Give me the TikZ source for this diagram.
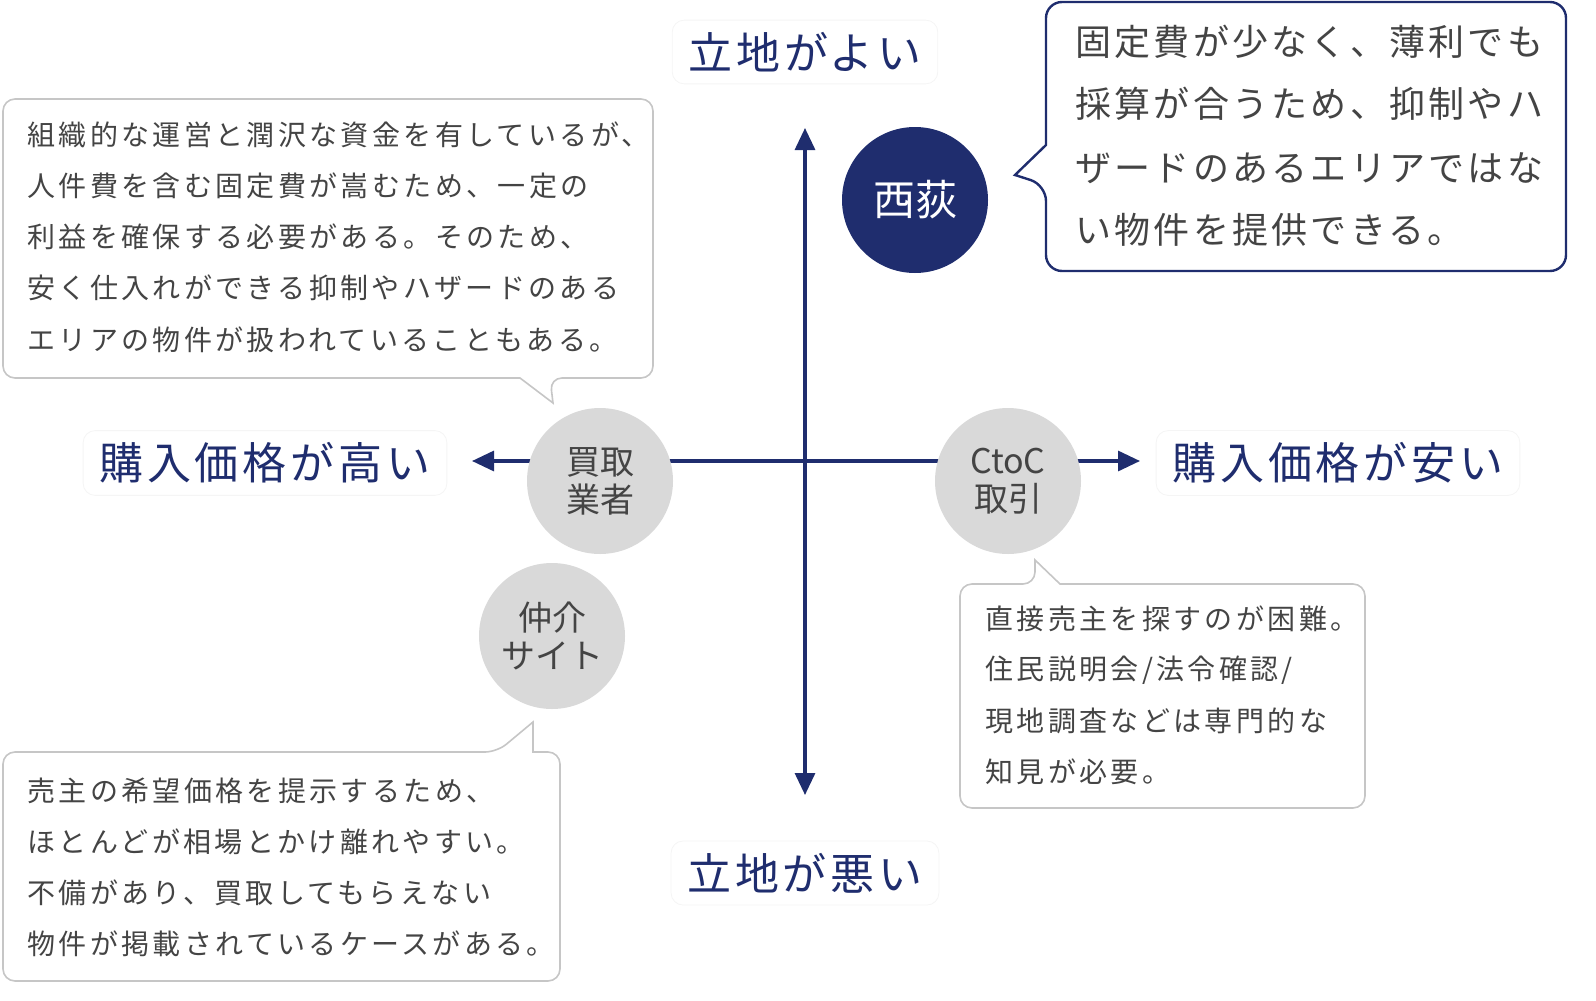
\documentclass[tikz,border=0pt]{standalone}
\usepackage{fontspec}
\setmainfont{Noto Sans CJK JP}
\newfontfamily\spaced[LetterSpace=12]{Noto Sans CJK JP}
\newfontfamily\spacedb[LetterSpace=9]{Noto Sans CJK JP}
\usetikzlibrary{arrows.meta}
\definecolor{navy}{HTML}{1F2D6E}
\definecolor{cgray}{HTML}{D9D9D9}
\definecolor{tgray}{HTML}{444444}
\begin{document}
\begin{tikzpicture}[x=0.5pt,y=-0.5pt,
  axis/.style={navy,line width=1.6pt,-{Triangle[length=11pt,width=10pt]}},
  lbl/.style={navy,font=\spacedb\fontsize{22}{26}\selectfont,fill=white,draw=gray!8,rounded corners=6pt,inner xsep=8pt,inner ysep=6pt},
  circ/.style={circle,minimum size=73pt,inner sep=0pt,align=center,font=\fontsize{17}{19}\selectfont,text=tgray,fill=cgray},
  bub/.style={draw=gray!45,line width=0.8pt,fill=white,rounded corners=6pt},
  btxt/.style={anchor=west,text=tgray,font=\spaced\fontsize{14}{16}\selectfont,inner sep=0pt}]
\useasboundingbox (0,0) rectangle (1596,1001);
% axes
\coordinate (c) at (805,461);
\coordinate (t) at (805,128); \coordinate (b) at (805,795);
\coordinate (l) at (472,461); \coordinate (r) at (1140,461);
\draw[axis] (c) -- (t); \draw[axis] (c) -- (b);
\draw[axis] (c) -- (l); \draw[axis] (c) -- (r);
% axis labels
\node[lbl] (lt) at (805,52) {立地がよい};
\node[lbl] (lb) at (805,873) {立地が悪い};
\node[lbl] (ll) at (265,463) {購入価格が高い};
\node[lbl] (lr) at (1338,463) {購入価格が安い};
% circles
\node[circ,fill=navy,text=white,font=\fontsize{21}{23}\selectfont] (n) at (915,200) {西荻};
\node[circ] (k) at (600,481) {買取\\業者};
\node[circ] (cc) at (1008,481) {CtoC\\取引};
\node[circ] (s) at (552,636) {仲介\\サイト};
% top-right callout
\draw[navy,line width=1.2pt,fill=white,rounded corners=8pt]
  (1046,145) -- (1046,2) -- (1566,2) -- (1566,271) -- (1046,271) -- (1046,185)
  [sharp corners] -- (1015,175) -- (1046,145) -- cycle;
\foreach \t/\y in {固定費が少なく、薄利でも/42,採算が合うため、抑制やハ/104,ザードのあるエリアではな/168,い物件を提供できる。/230}
  \node[btxt,text=tgray,font=\spacedb\fontsize{18}{20}\selectfont] at (1075,\y) {\t};
% top-left callout
\draw[bub] (520,378) -- (3,378) -- (3,99) -- (653,99) -- (653,378) -- (550,378)
  [sharp corners] -- (553,403) -- (520,378) -- cycle;
\foreach \t/\y in {組織的な運営と潤沢な資金を有しているが、/135,人件費を含む固定費が嵩むため、一定の/186,利益を確保する必要がある。そのため、/237,安く仕入れができる抑制やハザードのある/288,エリアの物件が扱われていることもある。/340}
  \node[btxt] at (27,\y) {\t};
% CtoC callout
\draw[bub] (1060,584) -- (1365,584) -- (1365,808) -- (960,808) -- (960,584) -- (1035,584)
  [sharp corners] -- (1035,560) -- (1060,584) -- cycle;
\foreach \t/\y in {{直接売主を探すのが困難。}/619,{住民説明会/法令確認/}/670,{現地調査などは専門的な}/721,{知見が必要。}/772}
  \node[btxt] at (985,\y) {\t};
% bottom-left callout
\draw[bub] (533,752) -- (560,752) -- (560,981) -- (3,981) -- (3,752) -- (497,752)
  [sharp corners] -- (533,722) -- (533,752) -- cycle;
\foreach \t/\y in {売主の希望価格を提示するため、/791,ほとんどが相場とかけ離れやすい。/842,不備があり、買取してもらえない/893,物件が掲載されているケースがある。/944}
  \node[btxt] at (27,\y) {\t};
\end{tikzpicture}
\end{document}
